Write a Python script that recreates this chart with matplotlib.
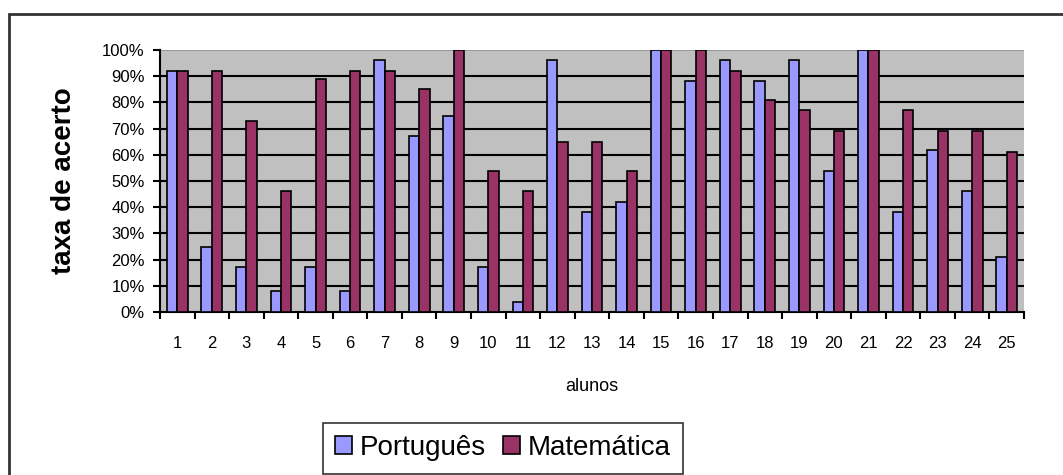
import numpy as np
import matplotlib.pyplot as plt
from matplotlib.patches import Rectangle
from matplotlib.ticker import FixedLocator

# dados (taxa de acerto em %)
alunos = [str(i) for i in range(1, 26)]
portugues = [92, 25, 17, 8, 17, 8, 96, 67, 75, 17, 4, 96, 38, 42, 100,
             88, 96, 88, 96, 54, 100, 38, 62, 46, 21]
matematica = [92, 92, 73, 46, 89, 92, 92, 85, 100, 54, 46, 65, 65, 54, 100,
              100, 92, 81, 77, 69, 100, 77, 69, 69, 61]
y_ticks = list(range(0, 101, 10))
y_labels = ['%d%%' % v for v in y_ticks]

plt.rcParams['font.family'] = ['Liberation Sans', 'DejaVu Sans']

W, H = 1063, 475
fig = plt.figure(figsize=(W / 100, H / 100), dpi=100)
ax = fig.add_axes([160 / W, 1 - 312 / H, (1024 - 160) / W, (312 - 50) / H])

x = np.arange(1, len(alunos) + 1)
w = 0.3
ax.set_facecolor('#C0C0C0')
ax.bar(x - w / 2, portugues, w, color='#9999FF', edgecolor='black', linewidth=1.2,
       label='Português', zorder=3)
ax.bar(x + w / 2, matematica, w, color='#993366', edgecolor='black', linewidth=1.2,
       label='Matemática', zorder=3)

for v in y_ticks[1:-1]:
    ax.axhline(v, color='black', lw=1.5, zorder=1)

ax.set_xlim(0.5, len(alunos) + 0.5)
ax.set_ylim(0, 100)
ax.set_yticks(y_ticks)
ax.set_yticklabels(y_labels, fontsize=12)
ax.xaxis.set_major_locator(FixedLocator(np.arange(0.5, len(alunos) + 1, 1)))
ax.set_xticklabels([])
ax.xaxis.set_minor_locator(FixedLocator(x))
ax.set_xticklabels(alunos, minor=True, fontsize=12)
ax.tick_params(axis='x', which='major', length=5, width=1.5, direction='out')
ax.tick_params(axis='x', which='minor', length=0, pad=17)
ax.tick_params(axis='y', length=5, width=1.5, pad=6)

for s in ['top', 'right']:
    ax.spines[s].set_visible(False)
ax.spines['left'].set_linewidth(1.5)
ax.spines['bottom'].set_linewidth(1.5)
ax.axhline(100, color='#999999', lw=1.5, zorder=1)

ax.set_ylabel('taxa de acerto', fontsize=20, fontweight='bold', labelpad=18)
ax.set_xlabel('alunos', fontsize=13, labelpad=20)

leg = fig.legend(loc='center', bbox_to_anchor=(503 / W, 1 - 448 / H), ncol=2,
                 fontsize=20, frameon=True, fancybox=False, edgecolor='black',
                 handlelength=0.6, handleheight=0.6, handletextpad=0.3,
                 columnspacing=0.6, borderpad=0.45)
leg.get_frame().set_linewidth(1.2)

# moldura externa
fig.patches.append(Rectangle((9 / W, -0.2), 1.2, 1 - 14 / H + 0.2,
                             transform=fig.transFigure, fill=False,
                             edgecolor='#333333', lw=2, clip_on=False))

fig.savefig('out.png', dpi=100)
